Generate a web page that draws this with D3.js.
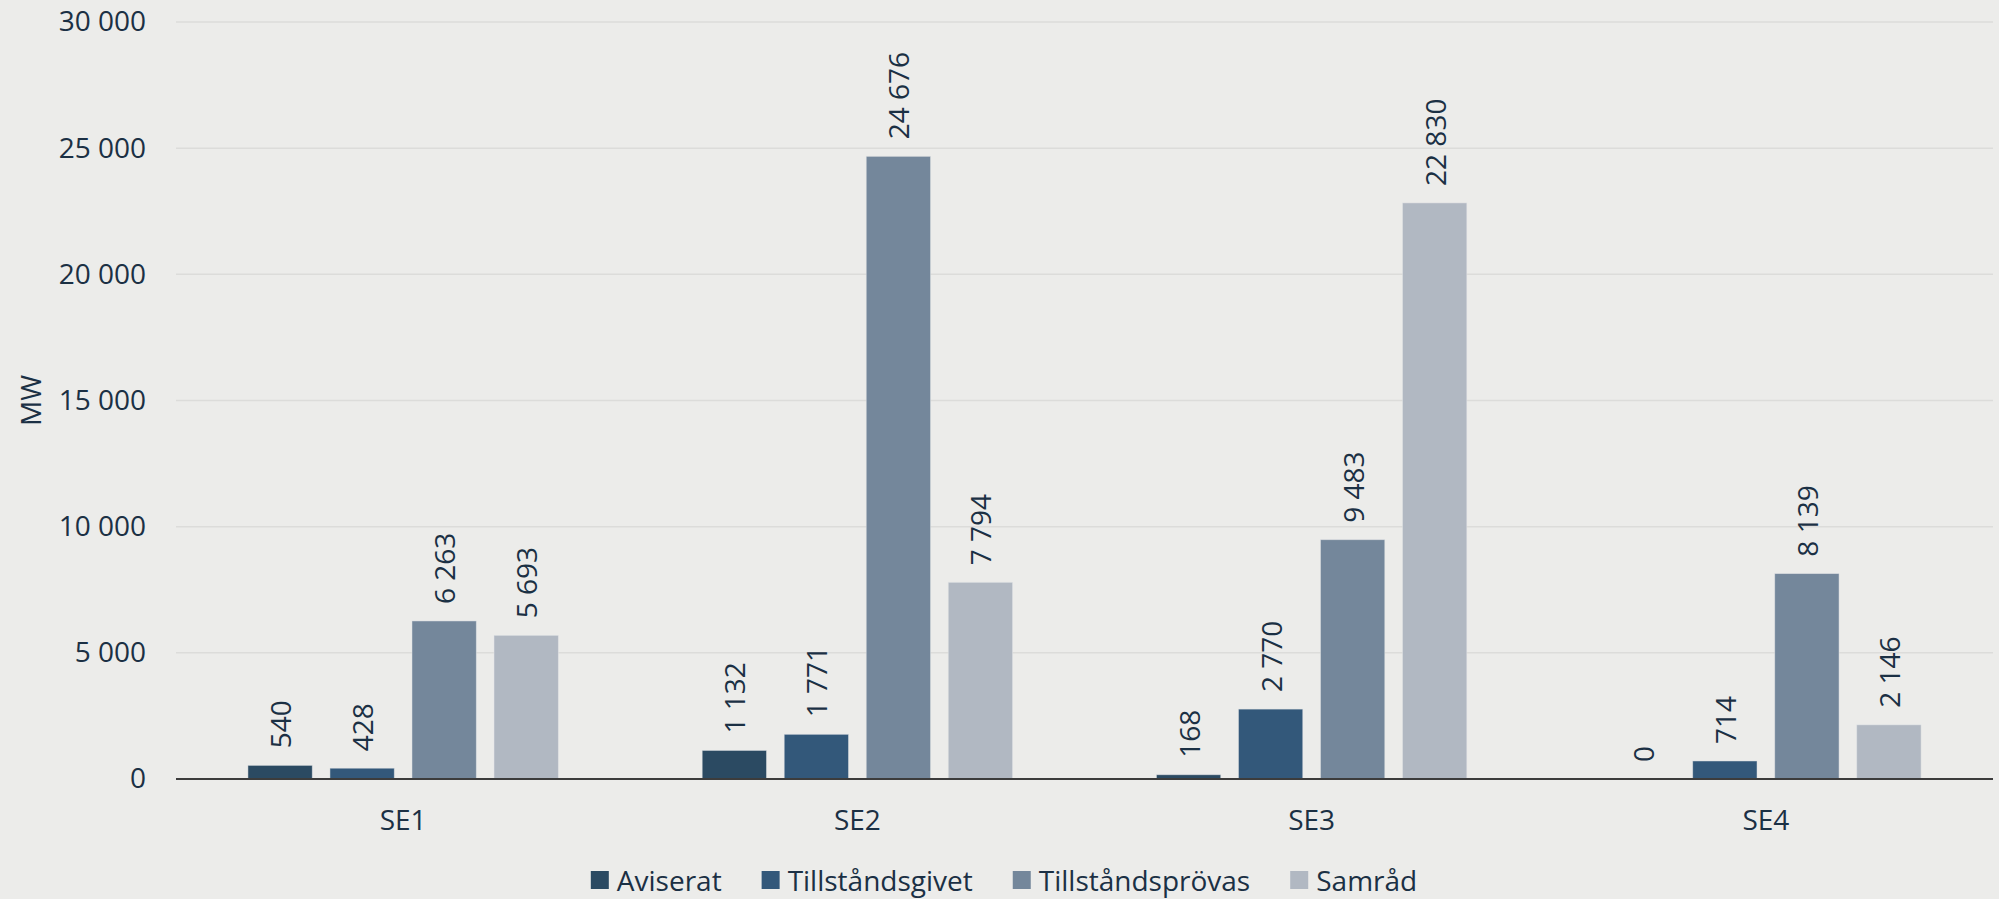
<!DOCTYPE html>
<html>
<head>
<meta charset="utf-8">
<script src="https://cdn.jsdelivr.net/npm/d3@7"></script>
<style>
  html, body { margin: 0; padding: 0; background: #ececea; }
  svg { display: block; }
  text { font-family: "Open Sans", "Noto Sans", sans-serif; fill: #1b3044; }
</style>
</head>
<body>
<svg id="chart" width="1999" height="899"></svg>
<script>
// Elområden (bidding zones) and installed capacity in MW per project stage
const categories = ["SE1", "SE2", "SE3", "SE4"];
const seriesNames = ["Aviserat", "Tillståndsgivet", "Tillståndsprövas", "Samråd"];
const aviserat = [540, 1132, 168, 0];
const tillstandsgivet = [428, 1771, 2770, 714];
const tillstandsprovas = [6263, 24676, 9483, 8139];
const samrad = [5693, 7794, 22830, 2146];
const yTicks = [0, 5000, 10000, 15000, 20000, 25000, 30000];
const yLabel = "MW";

const seriesValues = [aviserat, tillstandsgivet, tillstandsprovas, samrad];
const colors = ["#2b4a62", "#33587a", "#74879b", "#b1b8c2"];

const svg = d3.select("#chart");
const plot = { left: 176, right: 1993, top: 22, bottom: 779 };

// Swedish number format: space as thousands separator
const sv = d3.formatLocale({ decimal: ",", thousands: "\u00a0", grouping: [3], currency: ["", " kr"] });
const fmt = sv.format(",d");

const y = d3.scaleLinear().domain([0, 30000]).range([plot.bottom, plot.top]);
const x0 = d3.scaleBand().domain(categories).range([plot.left, plot.right]).padding(0);
const x1 = d3.scaleBand().domain(seriesNames).range([0, x0.bandwidth()])
  .paddingInner(0.216).paddingOuter(0.877);

// Gridlines
svg.append("g").selectAll("line").data(yTicks.filter(d => d > 0)).join("line")
  .attr("x1", plot.left).attr("x2", plot.right)
  .attr("y1", d => y(d)).attr("y2", d => y(d))
  .attr("stroke", "#dcdcda").attr("stroke-width", 1.5);

// Y axis tick labels
const yAxis = d3.axisLeft(y).tickValues(yTicks).tickFormat(fmt).tickSize(0).tickPadding(0);
const gy = svg.append("g").attr("transform", `translate(146,0)`).call(yAxis);
gy.select(".domain").remove();
gy.selectAll("text").attr("font-size", 28).attr("fill", "#1b3044")
  .style("font-family", "'Open Sans', sans-serif");

// Y axis title
svg.append("text")
  .attr("transform", `translate(30,${(plot.top + plot.bottom) / 2}) rotate(-90)`)
  .attr("text-anchor", "middle").attr("dominant-baseline", "central")
  .attr("font-size", 28).text(yLabel);

// Rows of (category, series, value)
const rows = [];
categories.forEach((c, i) => {
  seriesNames.forEach((s, j) => rows.push({ c, s, j, v: seriesValues[j][i] }));
});

// Bars
svg.append("g").selectAll("rect").data(rows.filter(d => d.v > 0)).join("rect")
  .attr("x", d => x0(d.c) + x1(d.s))
  .attr("width", x1.bandwidth())
  .attr("y", d => y(d.v))
  .attr("height", d => y(0) - y(d.v))
  .attr("fill", d => colors[d.j])
  .attr("stroke", "#e4e6e8").attr("stroke-width", 0.8).attr("stroke-opacity", 0.6);

// Value labels, rotated, above each bar
svg.append("g").selectAll("text").data(rows).join("text")
  .attr("transform", d => `translate(${x0(d.c) + x1(d.s) + x1.bandwidth() / 2},${y(d.v) - 17}) rotate(-90)`)
  .attr("text-anchor", "start").attr("dominant-baseline", "central")
  .attr("font-size", 28).text(d => fmt(d.v));

// Baseline
svg.append("line")
  .attr("x1", plot.left).attr("x2", plot.right)
  .attr("y1", y(0)).attr("y2", y(0))
  .attr("stroke", "#3c3c3c").attr("stroke-width", 2);

// Category axis labels
const xAxis = d3.axisBottom(x0).tickSize(0).tickPadding(0);
const gx = svg.append("g").attr("transform", `translate(0,830)`).call(xAxis);
gx.select(".domain").remove();
gx.selectAll("text").attr("font-size", 28).attr("fill", "#1b3044")
  .attr("dy", 0).attr("dominant-baseline", "alphabetic")
  .style("font-family", "'Open Sans', sans-serif");

// Legend, centered horizontally
const legend = svg.append("g");
const items = legend.selectAll("g").data(seriesNames).join("g");
items.append("rect").attr("width", 18).attr("height", 18).attr("y", 871)
  .attr("fill", (d, i) => colors[i]);
items.append("text").attr("x", 26).attr("y", 891).attr("font-size", 28).text(d => d);
let cx = 0;
const offsets = [];
items.each(function () {
  offsets.push(cx);
  const tw = d3.select(this).select("text").node().getComputedTextLength();
  cx += 26 + tw + 40;
});
const totalW = cx - 40;
const startX = 1004 - totalW / 2;
items.attr("transform", (d, i) => `translate(${startX + offsets[i]},0)`);
</script>
</body>
</html>
